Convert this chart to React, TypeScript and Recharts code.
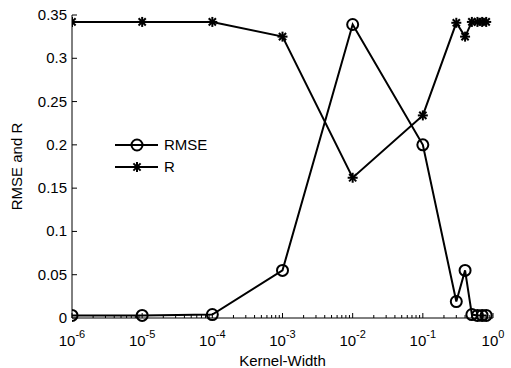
import { LineChart, Line, XAxis, YAxis } from 'recharts'

const kernelWidth = [1e-6, 1e-5, 1e-4, 1e-3, 1e-2, 1e-1, 0.3, 0.4, 0.5, 0.6, 0.7, 0.8]
const rmseValues = [0.003, 0.003, 0.004, 0.055, 0.339, 0.2, 0.019, 0.055, 0.004, 0.003, 0.003, 0.003]
const rValues = [0.342, 0.342, 0.342, 0.325, 0.162, 0.234, 0.341, 0.325, 0.342, 0.342, 0.342, 0.342]

const xMajorTicks = [1e-6, 1e-5, 1e-4, 1e-3, 1e-2, 1e-1, 1]
const xExponents = ['-6', '-5', '-4', '-3', '-2', '-1', '0']
const yTicks = [0, 0.05, 0.1, 0.15, 0.2, 0.25, 0.3, 0.35]
const yTickLabels = ['0', '0.05', '0.1', '0.15', '0.2', '0.25', '0.3', '0.35']

// minor ticks 2..9 in each decade
const xMinorTicks = xMajorTicks.slice(0, -1).flatMap(d => [2, 3, 4, 5, 6, 7, 8, 9].map(m => m * d))
const xAllTicks = [...xMajorTicks, ...xMinorTicks].sort((a, b) => a - b)

const data = kernelWidth.map((k, i) => ({ k, rmse: rmseValues[i], r: rValues[i] }))

const FONT = '"Liberation Sans", Arial, sans-serif'

const XTick = (props: any) => {
  const { x, y, payload } = props
  const idx = xMajorTicks.findIndex(t => Math.abs(t - payload.value) / t < 1e-6)
  const major = idx >= 0
  return (
    <g>
      <line x1={x} y1={y} x2={x} y2={y - (major ? 5 : 3)} stroke="#000" strokeWidth={1} />
      {major && (
        <text x={x} y={y + 28} textAnchor="middle" fontFamily={FONT} fontSize={15} fill="#000">
          10
          <tspan dy={-8} fontSize={11}>{xExponents[idx]}</tspan>
        </text>
      )}
    </g>
  )
}

const YTick = (props: any) => {
  const { x, y, payload } = props
  const idx = yTicks.findIndex(t => Math.abs(t - payload.value) < 1e-9)
  return (
    <g>
      <line x1={x} y1={y} x2={x + 5} y2={y} stroke="#000" strokeWidth={1} />
      <text x={x - 5} y={y + 5} textAnchor="end" fontFamily={FONT} fontSize={15} fill="#000">
        {yTickLabels[idx]}
      </text>
    </g>
  )
}

const CircleDot = (props: any) => {
  const { cx, cy } = props
  if (cx == null || cy == null) return null
  return <circle cx={cx} cy={cy} r={5.5} fill="none" stroke="#000" strokeWidth={2} />
}

const StarDot = (props: any) => {
  const { cx, cy } = props
  if (cx == null || cy == null) return null
  const s = 5
  const d = 3.6
  return (
    <g stroke="#000" strokeWidth={2}>
      <line x1={cx - s} y1={cy} x2={cx + s} y2={cy} />
      <line x1={cx} y1={cy - s} x2={cx} y2={cy + s} />
      <line x1={cx - d} y1={cy - d} x2={cx + d} y2={cy + d} />
      <line x1={cx - d} y1={cy + d} x2={cx + d} y2={cy - d} />
    </g>
  )
}

const LegendBox = () => (
  <svg width={110} height={46} style={{ display: 'block' }}>
    <line x1={0} y1={10} x2={43} y2={10} stroke="#000" strokeWidth={2} />
    <CircleDot cx={22} cy={10} />
    <text x={49} y={15} fontFamily={FONT} fontSize={15} fill="#000">RMSE</text>
    <line x1={0} y1={32} x2={43} y2={32} stroke="#000" strokeWidth={2} />
    <StarDot cx={22} cy={32} />
    <text x={49} y={37} fontFamily={FONT} fontSize={15} fill="#000">R</text>
  </svg>
)

export default function App() {
  return (
    <div style={{ position: 'absolute', left: 0, top: 0, width: 511, height: 368, background: '#fff' }}>
      <LineChart width={511} height={368} data={data} margin={{ top: 15, right: 18, left: 0, bottom: 0 }}>
        <XAxis
          dataKey="k"
          type="number"
          scale="log"
          domain={[1e-6, 1]}
          ticks={xAllTicks}
          interval={0}
          allowDataOverflow
          height={50}
          tickSize={0}
          tickMargin={0}
          tickLine={false}
          axisLine={{ stroke: '#000', strokeWidth: 1 }}
          tick={<XTick />}
          label={{
            value: 'Kernel-Width',
            position: 'insideBottom',
            offset: 2,
            style: { fontFamily: FONT, fontSize: 15, fill: '#000' },
          }}
        />
        <YAxis
          type="number"
          domain={[0, 0.35]}
          ticks={yTicks}
          interval={0}
          width={72}
          tickSize={0}
          tickMargin={0}
          tickLine={false}
          axisLine={{ stroke: '#000', strokeWidth: 1 }}
          tick={<YTick />}
          label={{
            value: 'RMSE and R',
            angle: -90,
            position: 'insideLeft',
            offset: 17,
            style: { fontFamily: FONT, fontSize: 15, fill: '#000', textAnchor: 'middle' },
          }}
        />
        <Line
          dataKey="rmse"
          name="RMSE"
          stroke="#000"
          strokeWidth={2}
          dot={<CircleDot />}
          activeDot={false}
          isAnimationActive={false}
        />
        <Line
          dataKey="r"
          name="R"
          stroke="#000"
          strokeWidth={2}
          dot={<StarDot />}
          activeDot={false}
          isAnimationActive={false}
        />
      </LineChart>
      <div style={{ position: 'absolute', left: 115, top: 135 }}>
        <LegendBox />
      </div>
    </div>
  )
}
